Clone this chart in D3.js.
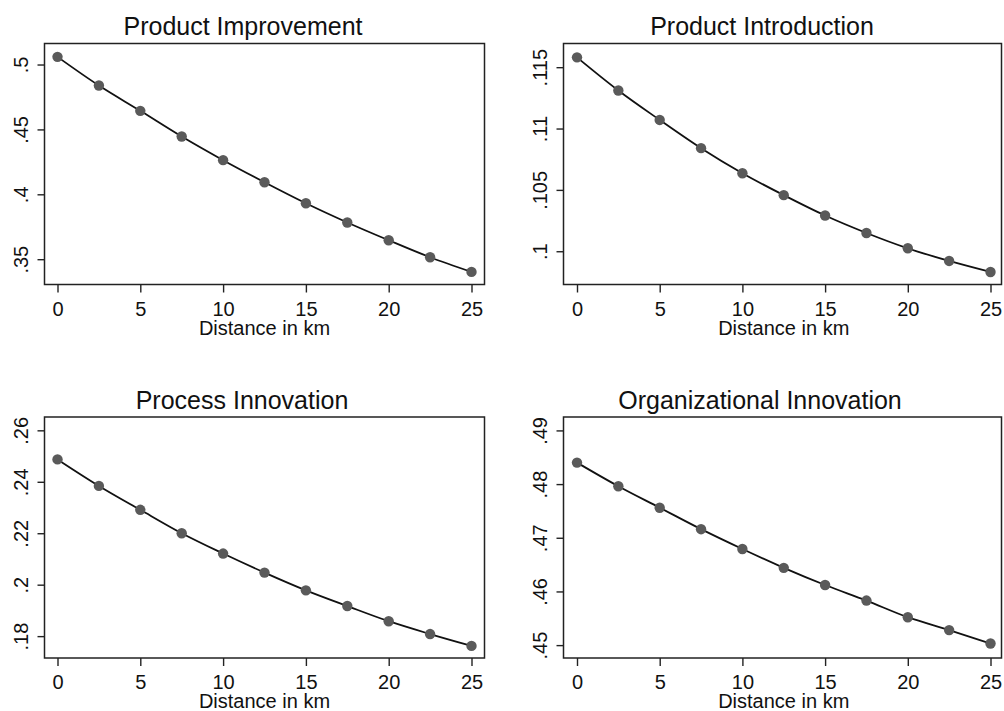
<!DOCTYPE html>
<html>
<head>
<meta charset="utf-8">
<script src="https://cdn.jsdelivr.net/npm/d3@7"></script>
<style>
  html, body { margin: 0; padding: 0; background: #fff; }
  svg { display: block; }
  text { font-family: "Liberation Sans", Arial, sans-serif; fill: #111; }
</style>
</head>
<body>
<svg id="chart" width="1004" height="711"></svg>
<script>
// Distance grid (km) shared by all four panels
const distance = [0, 2.5, 5, 7.5, 10, 12.5, 15, 17.5, 20, 22.5, 25];
const xTicks = [0, 5, 10, 15, 20, 25];

// Predicted probabilities by innovation type
const productImprovement = [0.5059, 0.4838, 0.4643, 0.4445, 0.4263, 0.4093, 0.3931, 0.3783, 0.3646, 0.3515, 0.3402];
const productIntroduction = [0.1158, 0.1131, 0.1107, 0.1084, 0.10636, 0.10457, 0.10291, 0.10149, 0.10024, 0.09921, 0.09831];
const processInnovation = [0.2487, 0.2384, 0.2291, 0.2200, 0.2121, 0.2047, 0.1978, 0.1917, 0.1858, 0.1808, 0.1762];
const organizationalInnovation = [0.4840, 0.4796, 0.4756, 0.4716, 0.4679, 0.4644, 0.4612, 0.4583, 0.4552, 0.4528, 0.4503];

// y-axis tick values per panel
const ticksImprovement = [0.35, 0.4, 0.45, 0.5];
const ticksIntroduction = [0.1, 0.105, 0.11, 0.115];
const ticksProcess = [0.18, 0.2, 0.22, 0.24, 0.26];
const ticksOrganizational = [0.45, 0.46, 0.47, 0.48, 0.49];

const titles = ["Product Improvement", "Product Introduction", "Process Innovation", "Organizational Innovation"];
const xTitle = "Distance in km";

const panels = [
  { title: titles[0], values: productImprovement, ticks: ticksImprovement, yDomain: [0.3305, 0.5162],
    frame: { x0: 44.5, x1: 484.5, y0: 43.5, y1: 284.5 }, pad: [13, 13], titleX: 243 },
  { title: titles[1], values: productIntroduction, ticks: ticksIntroduction, yDomain: [0.09729, 0.11693],
    frame: { x0: 563.5, x1: 1001.5, y0: 43.5, y1: 284.5 }, pad: [13.5, 11], titleX: 762 },
  { title: titles[2], values: processInnovation, ticks: ticksProcess, yDomain: [0.1715, 0.26518],
    frame: { x0: 44.5, x1: 484.5, y0: 417, y1: 658 }, pad: [13, 13], titleX: 242 },
  { title: titles[3], values: organizationalInnovation, ticks: ticksOrganizational, yDomain: [0.4476, 0.4925],
    frame: { x0: 563.5, x1: 1001.5, y0: 417, y1: 658 }, pad: [13.5, 11], titleX: 760 }
];

// Stata-style labels: drop the leading zero (".5", ".105")
const fmt = v => {
  let s = String(+v.toFixed(4));
  return s.replace(/^0\./, ".");
};

const svg = d3.select("#chart");

panels.forEach(p => {
  const f = p.frame;
  const x = d3.scaleLinear().domain([0, 25]).range([f.x0 + p.pad[0], f.x1 - p.pad[1]]);
  const y = d3.scaleLinear().domain(p.yDomain).range([f.y1, f.y0]);
  const g = svg.append("g");

  // title
  g.append("text")
    .attr("x", p.titleX).attr("y", f.y0 - 8.5)
    .attr("text-anchor", "middle")
    .style("font-size", "25px")
    .text(p.title);

  // plot frame
  g.append("rect")
    .attr("x", f.x0).attr("y", f.y0)
    .attr("width", f.x1 - f.x0).attr("height", f.y1 - f.y0)
    .attr("fill", "none").attr("stroke", "#222").attr("stroke-width", 1.5);

  // x axis
  const xAxis = g.append("g")
    .attr("transform", `translate(0,${f.y1})`)
    .call(d3.axisBottom(x).tickValues(xTicks).tickSize(8).tickPadding(9).tickFormat(d3.format("d")));
  xAxis.select(".domain").remove();
  xAxis.selectAll(".tick line").attr("stroke", "#222").attr("stroke-width", 1.4);
  xAxis.selectAll(".tick text")
    .style("font-size", "20px").style("font-family", "Liberation Sans, Arial, sans-serif").attr("fill", "#111");

  // x axis title
  g.append("text")
    .attr("x", (x(0) + x(25)) / 2).attr("y", f.y1 + 50)
    .attr("text-anchor", "middle")
    .style("font-size", "20px")
    .text(xTitle);

  // y axis with vertical labels
  const yAxis = g.append("g")
    .attr("transform", `translate(${f.x0},0)`)
    .call(d3.axisLeft(y).tickValues(p.ticks).tickSize(7).tickFormat(fmt));
  yAxis.select(".domain").remove();
  yAxis.selectAll(".tick line").attr("stroke", "#222").attr("stroke-width", 1.4);
  yAxis.selectAll(".tick text")
    .attr("x", null).attr("dy", null)
    .attr("text-anchor", "middle")
    .attr("transform", "translate(-17,0) rotate(-90)")
    .style("font-size", "20px").style("font-family", "Liberation Sans, Arial, sans-serif").attr("fill", "#111");

  const pts = distance.map((d, i) => [d, p.values[i]]);

  // fitted curve
  g.append("path")
    .datum(pts)
    .attr("fill", "none").attr("stroke", "#111").attr("stroke-width", 1.8)
    .attr("d", d3.line().x(d => x(d[0])).y(d => y(d[1])).curve(d3.curveMonotoneX));

  // markers
  g.selectAll("circle.pt").data(pts).join("circle")
    .attr("class", "pt")
    .attr("cx", d => x(d[0])).attr("cy", d => y(d[1]))
    .attr("r", 5.2).attr("fill", "#5a5a5a");
});
</script>
</body>
</html>
